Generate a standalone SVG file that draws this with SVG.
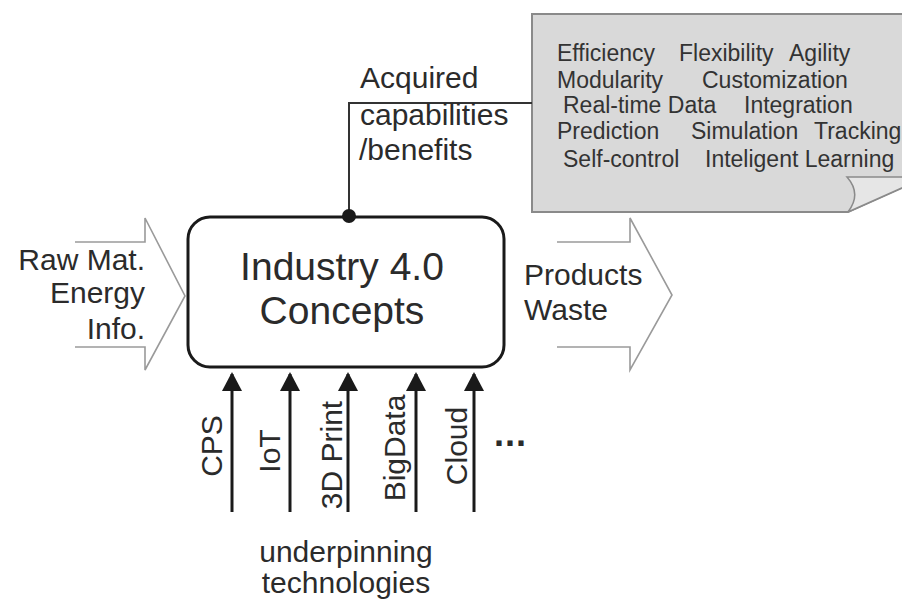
<svg xmlns="http://www.w3.org/2000/svg" width="902" height="600" viewBox="0 0 902 600">
<style>
text{font-family:"Liberation Sans",Arial,sans-serif;fill:#2b2b2b}
.lbl{font-size:30px}
.cap{font-size:23px;fill:#333}
.flow{fill:none;stroke:#9a9a9a;stroke-width:1.6}
.tech{stroke:#1a1a1a;stroke-width:3;fill:none}
</style>
<defs>
<marker id="ah" markerWidth="19" markerHeight="20" refX="17" refY="10" orient="auto" markerUnits="userSpaceOnUse" viewBox="0 0 19 20">
<path d="M0,0 L19,10 L0,20 Z" fill="#1a1a1a"/>
</marker>
</defs>
<rect width="902" height="600" fill="#fff"/>

<g id="callout">
<path d="M532,14 H906 V186 L848,212 H532 Z" fill="#d9d9d9" stroke="#8a8a8a" stroke-width="2"/>
<path d="M847,177 H906 V186 L848,212 Q862,194 847,177 Z" fill="#e6e6e6" stroke="#8a8a8a" stroke-width="1.5"/>
<text class="cap" x="557" y="61">Efficiency</text>
<text class="cap" x="679" y="61">Flexibility</text>
<text class="cap" x="789" y="61">Agility</text>
<text class="cap" x="557" y="88">Modularity</text>
<text class="cap" x="702" y="88">Customization</text>
<text class="cap" x="563" y="113">Real-time Data</text>
<text class="cap" x="744" y="113">Integration</text>
<text class="cap" x="557" y="139">Prediction</text>
<text class="cap" x="691" y="139">Simulation</text>
<text class="cap" x="814" y="139">Tracking</text>
<text class="cap" x="563" y="167">Self-control</text>
<text class="cap" x="705" y="167">Inteligent Learning</text>
</g>

<g id="connectors">
<path d="M349,216 V103 H532" fill="none" stroke="#333" stroke-width="2"/>
<path class="flow" d="M75,242 H145 V218 L185,296 L145,370 V347 H75"/>
<path class="flow" d="M557,242 H630 V218 L672,295 L630,370 V347 H557"/>
<line class="tech" x1="232" y1="512" x2="232" y2="374" marker-end="url(#ah)"/>
<line class="tech" x1="290" y1="512" x2="290" y2="374" marker-end="url(#ah)"/>
<line class="tech" x1="348" y1="512" x2="348" y2="374" marker-end="url(#ah)"/>
<line class="tech" x1="416" y1="512" x2="416" y2="374" marker-end="url(#ah)"/>
<line class="tech" x1="474" y1="512" x2="474" y2="374" marker-end="url(#ah)"/>
</g>

<g id="main">
<rect x="188" y="217" width="316" height="150" rx="22" ry="22" fill="#fff" stroke="#1a1a1a" stroke-width="3"/>
<circle cx="349" cy="216" r="7" fill="#1a1a1a"/>
<text x="342" y="280" font-size="39" text-anchor="middle">Industry 4.0</text>
<text x="342" y="324" font-size="39" text-anchor="middle">Concepts</text>
</g>

<g id="benefits-label">
<text class="lbl" x="360" y="88">Acquired</text>
<text class="lbl" x="360" y="125">capabilities</text>
<text class="lbl" x="359" y="160">/benefits</text>
</g>

<g id="inputs">
<text class="lbl" x="145" y="270" text-anchor="end">Raw Mat.</text>
<text class="lbl" x="145" y="303" text-anchor="end">Energy</text>
<text class="lbl" x="145" y="339" text-anchor="end">Info.</text>
</g>

<g id="outputs">
<text class="lbl" x="524" y="285">Products</text>
<text class="lbl" x="524" y="320">Waste</text>
</g>

<g id="technologies">
<text class="lbl" text-anchor="middle" transform="translate(222,446) rotate(-90)">CPS</text>
<text class="lbl" text-anchor="middle" transform="translate(280,451) rotate(-90)">IoT</text>
<text class="lbl" text-anchor="middle" transform="translate(342,455) rotate(-90)">3D Print</text>
<text class="lbl" text-anchor="middle" transform="translate(405,448) rotate(-90)">BigData</text>
<text class="lbl" text-anchor="middle" transform="translate(467,446) rotate(-90)">Cloud</text>
<text x="494" y="446" font-size="36" font-weight="bold" letter-spacing="1" fill="#1a1a1a">...</text>
<text class="lbl" x="346" y="562" text-anchor="middle">underpinning</text>
<text class="lbl" x="346" y="593" text-anchor="middle">technologies</text>
</g>
</svg>
